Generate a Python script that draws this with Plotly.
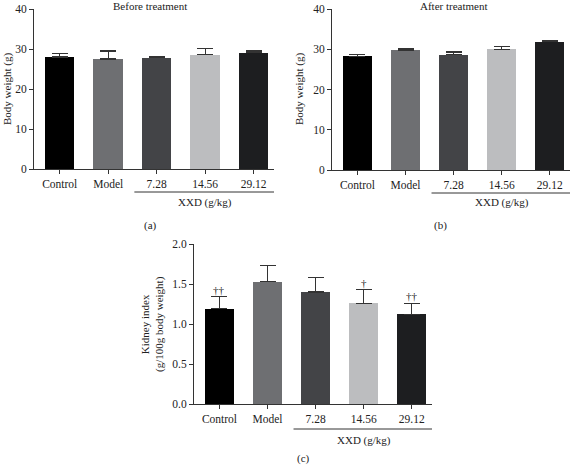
import plotly.graph_objects as go

categories = ["Control", "Model", "7.28", "14.56", "29.12"]
colors = ["#000000", "#6e6f72", "#434447", "#bcbdbf", "#1d1e20"]

before_mean = [28.0, 27.5, 27.8, 28.6, 29.1]
before_err = [0.9, 2.0, 0.4, 1.6, 0.4]

after_mean = [28.2, 29.8, 28.6, 30.0, 31.9]
after_err = [0.4, 0.3, 0.7, 0.6, 0.3]

kidney_mean = [1.19, 1.53, 1.40, 1.26, 1.12]
kidney_err = [0.15, 0.20, 0.18, 0.17, 0.14]
kidney_marks = ["††", "", "", "†", "††"]

W, H = 576, 465
FONT = "Liberation Serif, Times New Roman, serif"
xs = list(range(len(categories)))

def px(v):
    return v / W

def py(v):
    return (H - v) / H

fig = go.Figure()

panels = [
    dict(ax="", mean=before_mean, err=before_err),
    dict(ax="2", mean=after_mean, err=after_err),
    dict(ax="3", mean=kidney_mean, err=kidney_err),
]
for p in panels:
    fig.add_trace(go.Bar(
        x=xs, y=p["mean"], width=0.61,
        marker=dict(color=colors, line=dict(width=0)),
        error_y=dict(type="data", symmetric=False, array=p["err"],
                     arrayminus=[0] * len(xs), color="#333333",
                     thickness=1.2, width=8),
        xaxis="x" + p["ax"], yaxis="y" + p["ax"], showlegend=False,
        hoverinfo="skip",
    ))

for i, m in enumerate(kidney_marks):
    if m:
        fig.add_annotation(x=xs[i], y=kidney_mean[i] + kidney_err[i], xref="x3", yref="y3",
                           text=m, showarrow=False, yanchor="bottom", yshift=-1,
                           font=dict(family=FONT, size=11, color="#222222"))

axis_common = dict(showline=True, linecolor="#333", linewidth=1, ticks="outside",
                   ticklen=4, tickcolor="#333", showgrid=False, zeroline=False,
                   automargin=False,
                   tickfont=dict(family=FONT, size=11.5, color="#222"))

xrng = [-0.53, 4.42]
fig.update_layout(
    width=W, height=H, autosize=False,
    margin=dict(l=0, r=0, t=0, b=0, pad=0, autoexpand=False),
    plot_bgcolor="white", paper_bgcolor="white", bargap=0,
    xaxis=dict(domain=[px(34), px(274)], range=xrng, tickvals=xs, ticktext=categories,
               anchor="y", **axis_common),
    yaxis=dict(domain=[py(169), py(9)], range=[0, 40], tickvals=[0, 10, 20, 30, 40],
               anchor="x", **axis_common),
    xaxis2=dict(domain=[px(332), px(570)], range=xrng, tickvals=xs, ticktext=categories,
                anchor="y2", **axis_common),
    yaxis2=dict(domain=[py(170), py(9)], range=[0, 40], tickvals=[0, 10, 20, 30, 40],
                anchor="x2", **axis_common),
    xaxis3=dict(domain=[px(194), px(432)], range=xrng, tickvals=xs, ticktext=categories,
                anchor="y3", **axis_common),
    yaxis3=dict(domain=[py(404), py(244)], range=[0, 2], tickvals=[0, 0.5, 1.0, 1.5, 2.0],
                tickformat=".1f", anchor="x3", **axis_common),
)

def txt(x, y, s, size=11, angle=0):
    fig.add_annotation(x=px(x), y=py(y), xref="paper", yref="paper", text=s,
                       showarrow=False, textangle=angle, xanchor="center", yanchor="middle",
                       font=dict(family=FONT, size=size, color="#222"))

txt(150, 6, "Before treatment")
txt(454, 6, "After treatment")
txt(7, 89, "Body weight (g)", angle=-90)
txt(299, 89, "Body weight (g)", angle=-90)
txt(152, 324, "Kidney index<br>(g/100g body weight)", angle=-90)

for xa, yline, ylab in [("x", 192, 202), ("x2", 193, 203), ("x3", 429, 440)]:
    fig.add_shape(type="line", xref=xa, yref="paper", x0=xs[2] - 0.46, x1=xs[4] + 0.43,
                  y0=py(yline), y1=py(yline), line=dict(color="#333", width=1))
    fig.add_annotation(x=xs[3], y=py(ylab), xref=xa, yref="paper", text="XXD (g/kg)",
                       showarrow=False, yanchor="middle",
                       font=dict(family=FONT, size=11, color="#222"))

txt(150, 226, "(a)")
txt(440, 226, "(b)")
txt(303, 458, "(c)")

post = (
    "var d=document.getElementById('{plot_id}');"
    "d.style.position='fixed';d.style.left='0px';d.style.top='0px';"
    "document.documentElement.style.overflow='hidden';"
    "document.documentElement.style.height='465px';"
    "document.body.style.margin='0';document.body.style.overflow='hidden';"
    "document.body.style.height='465px';"
)
fig.write_html("out.html", config={"displayModeBar": False}, post_script=post)
